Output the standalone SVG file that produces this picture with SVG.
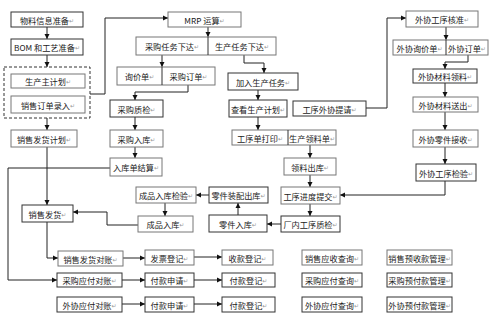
<svg xmlns="http://www.w3.org/2000/svg" width="500" height="317" viewBox="0 0 500 317">
<style>
.b{fill:#fff;stroke:#333;stroke-width:1}
.g{fill:#fff;stroke:#777;stroke-width:1}
.d{fill:none;stroke:#333;stroke-width:1;stroke-dasharray:3,2}
.t{font-family:"Noto Sans CJK SC","Noto Sans CJK JP",sans-serif;font-size:8.2px;fill:#1a1a1a;text-anchor:middle;dominant-baseline:central}
.m{fill:#999;font-size:6px;font-family:"DejaVu Sans",sans-serif}
.c{fill:none;stroke:#222;stroke-width:1}
.a{marker-end:url(#ah)}
.dv{stroke:#333;stroke-width:1}
</style>
<defs>
<marker id="ah" markerUnits="userSpaceOnUse" markerWidth="6" markerHeight="6" refX="5" refY="3" orient="auto">
<path d="M0,0.5 L5,3 L0,5.5 z" fill="#111"/>
</marker>
</defs>
<rect width="500" height="317" fill="#fff"/>

<g id="connectors">
<path class="c a" d="M47,27V39"/>
<path class="c a" d="M47,55V67"/>
<path class="c a" d="M90,94H105V18H168"/>
<path class="c a" d="M47,118V130"/>
<path class="c a" d="M208,27V37"/>
<path class="c a" d="M162,55V67"/>
<path class="c a" d="M188,85V92H135V100"/>
<path class="c a" d="M135,117V130"/>
<path class="c a" d="M135,147V158"/>
<path class="c a" d="M110,168H8V280H57"/>
<path class="c a" d="M244,55V63H264V73"/>
<path class="c a" d="M258,90V100"/>
<path class="c a" d="M258,117V130"/>
<path class="c a" d="M366,108H387V18H406"/>
<path class="c a" d="M446,27V40"/>
<path class="c a" d="M468,55V62H445V69"/>
<path class="c a" d="M445,83V97"/>
<path class="c a" d="M445,112V130"/>
<path class="c a" d="M445,147V164"/>
<path class="c a" d="M445,181V195H340"/>
<path class="c a" d="M310,145V158"/>
<path class="c a" d="M310,175V187"/>
<path class="c a" d="M310,204V216"/>
<path class="c a" d="M281,224H267"/>
<path class="c a" d="M238,215V203"/>
<path class="c a" d="M209,195H196"/>
<path class="c a" d="M165,203V216"/>
<path class="c a" d="M138,225H107V212H73"/>
<path class="c a" d="M47,147V205"/>
<path class="c a" d="M47,222V258H58"/>
<path class="c a" d="M123,258H145"/>
<path class="c a" d="M194,257H222"/>
<path class="c a" d="M122,280H145"/>
<path class="c a" d="M194,280H222"/>
<path class="c a" d="M122,304H145"/>
<path class="c a" d="M194,304H222"/>
</g>

<g id="n-wlxx"><rect class="b" x="11" y="12" width="72" height="15"/><text class="t" x="47" y="19.5">物料信息准备<tspan class="m">↵</tspan></text></g>
<g id="n-bom"><rect class="b" x="11" y="39" width="72" height="16"/><text class="t" x="47" y="47">BOM 和工艺准备<tspan class="m">↵</tspan></text></g>
<g id="n-dashed"><rect class="d" x="4" y="67" width="86" height="51"/></g>
<g id="n-sczjh"><rect class="g" x="11" y="74" width="74" height="14"/><text class="t" x="48" y="81">生产主计划<tspan class="m">↵</tspan></text></g>
<g id="n-xsdd"><rect class="g" x="11" y="96" width="74" height="17"/><text class="t" x="48" y="104.5">销售订单录入<tspan class="m">↵</tspan></text></g>
<g id="n-xsfhjh"><rect class="g" x="11" y="130" width="66" height="17"/><text class="t" x="44" y="138.5">销售发货计划<tspan class="m">↵</tspan></text></g>
<g id="n-mrp"><rect class="g" x="168" y="12" width="73" height="15"/><text class="t" x="204.5" y="19.5">MRP 运算<tspan class="m">↵</tspan></text></g>
<g id="n-rwxd"><rect class="g" x="136" y="37" width="140" height="18"/><line class="dv" x1="208" y1="37" x2="208" y2="55"/><text class="t" x="172" y="46">采购任务下达<tspan class="m">↵</tspan></text><text class="t" x="242" y="46">生产任务下达<tspan class="m">↵</tspan></text></g>
<g id="n-xjd"><rect class="g" x="117" y="67" width="98" height="18"/><line class="dv" x1="162" y1="67" x2="162" y2="85"/><text class="t" x="139.5" y="76">询价单<tspan class="m">↵</tspan></text><text class="t" x="188.5" y="76">采购订单<tspan class="m">↵</tspan></text></g>
<g id="n-jrsc"><rect class="b" x="228" y="73" width="70" height="17"/><text class="t" x="263" y="81.5">加入生产任务<tspan class="m">↵</tspan></text></g>
<g id="n-cgzj"><rect class="b" x="110" y="100" width="53" height="17"/><text class="t" x="136.5" y="108.5">采购质检<tspan class="m">↵</tspan></text></g>
<g id="n-cgrk"><rect class="g" x="110" y="130" width="53" height="17"/><text class="t" x="136.5" y="138.5">采购入库<tspan class="m">↵</tspan></text></g>
<g id="n-rkdjs"><rect class="g" x="110" y="158" width="52" height="18"/><text class="t" x="136" y="167">入库单结算<tspan class="m">↵</tspan></text></g>
<g id="n-ckscjh"><rect class="b" x="229" y="100" width="58" height="17"/><text class="t" x="258" y="108.5">查看生产计划<tspan class="m">↵</tspan></text></g>
<g id="n-gxwxtq"><rect class="b" x="293" y="101" width="73" height="15"/><text class="t" x="329.5" y="108.5">工序外协提请<tspan class="m">↵</tspan></text></g>
<g id="n-gxddy"><rect class="g" x="232" y="130" width="104" height="15"/><line class="dv" x1="288" y1="130" x2="288" y2="145"/><text class="t" x="260" y="137.5">工序单打印<tspan class="m">↵</tspan></text><text class="t" x="312" y="137.5">生产领料单<tspan class="m">↵</tspan></text></g>
<g id="n-llck"><rect class="g" x="284" y="158" width="52" height="17"/><text class="t" x="310" y="166.5">领料出库<tspan class="m">↵</tspan></text></g>
<g id="n-gxjdtj"><rect class="g" x="281" y="187" width="59" height="17"/><text class="t" x="310.5" y="195.5">工序进度提交<tspan class="m">↵</tspan></text></g>
<g id="n-cngxzj"><rect class="b" x="281" y="216" width="59" height="16"/><text class="t" x="310.5" y="224">厂内工序质检<tspan class="m">↵</tspan></text></g>
<g id="n-ljrk"><rect class="b" x="209" y="215" width="58" height="17"/><text class="t" x="238" y="223.5">零件入库<tspan class="m">↵</tspan></text></g>
<g id="n-ljzpck"><rect class="b" x="209" y="187" width="59" height="16"/><text class="t" x="238.5" y="195">零件装配出库<tspan class="m">↵</tspan></text></g>
<g id="n-cprkjy"><rect class="g" x="136" y="187" width="60" height="16"/><text class="t" x="166" y="195">成品入库检验<tspan class="m">↵</tspan></text></g>
<g id="n-cprk"><rect class="g" x="138" y="216" width="55" height="16"/><text class="t" x="165.5" y="224">成品入库<tspan class="m">↵</tspan></text></g>
<g id="n-xsfh"><rect class="b" x="22" y="205" width="51" height="17"/><text class="t" x="47.5" y="213.5">销售发货<tspan class="m">↵</tspan></text></g>
<g id="n-xsfhdz"><rect class="g" x="58" y="251" width="65" height="15"/><text class="t" x="90.5" y="258.5">销售发货对账<tspan class="m">↵</tspan></text></g>
<g id="n-fpdj"><rect class="g" x="145" y="250" width="49" height="15"/><text class="t" x="169.5" y="257.5">发票登记<tspan class="m">↵</tspan></text></g>
<g id="n-skdj"><rect class="g" x="222" y="250" width="51" height="15"/><text class="t" x="247.5" y="257.5">收款登记<tspan class="m">↵</tspan></text></g>
<g id="n-cgyfdz"><rect class="b" x="57" y="273" width="65" height="14"/><text class="t" x="89.5" y="280">采购应付对账<tspan class="m">↵</tspan></text></g>
<g id="n-fksq1"><rect class="b" x="145" y="273" width="49" height="14"/><text class="t" x="169.5" y="280">付款申请<tspan class="m">↵</tspan></text></g>
<g id="n-fkdj1"><rect class="b" x="222" y="273" width="53" height="14"/><text class="t" x="248.5" y="280">付款登记<tspan class="m">↵</tspan></text></g>
<g id="n-wxyfdz"><rect class="b" x="57" y="297" width="65" height="15"/><text class="t" x="89.5" y="304.5">外协应付对账<tspan class="m">↵</tspan></text></g>
<g id="n-fksq2"><rect class="b" x="145" y="297" width="49" height="15"/><text class="t" x="169.5" y="304.5">付款申请<tspan class="m">↵</tspan></text></g>
<g id="n-fkdj2"><rect class="b" x="222" y="297" width="53" height="15"/><text class="t" x="248.5" y="304.5">付款登记<tspan class="m">↵</tspan></text></g>
<g id="n-xsyscx"><rect class="g" x="302" y="250" width="60" height="15"/><text class="t" x="332" y="257.5">销售应收查询<tspan class="m">↵</tspan></text></g>
<g id="n-cgyfcx"><rect class="b" x="302" y="273" width="60" height="14"/><text class="t" x="332" y="280">采购应付查询<tspan class="m">↵</tspan></text></g>
<g id="n-wxyfcx"><rect class="b" x="302" y="297" width="60" height="15"/><text class="t" x="332" y="304.5">外协应付查询<tspan class="m">↵</tspan></text></g>
<g id="n-xsyskgl"><rect class="g" x="387" y="250" width="65" height="15"/><text class="t" x="419.5" y="257.5">销售预收款管理<tspan class="m">↵</tspan></text></g>
<g id="n-cgyfkgl"><rect class="b" x="387" y="273" width="65" height="14"/><text class="t" x="419.5" y="280">采购预付款管理<tspan class="m">↵</tspan></text></g>
<g id="n-wxyfkgl"><rect class="b" x="387" y="297" width="65" height="15"/><text class="t" x="419.5" y="304.5">外协预付款管理<tspan class="m">↵</tspan></text></g>
<g id="n-wxgxhz"><rect class="g" x="406" y="11" width="72" height="16"/><text class="t" x="442" y="19">外协工序核准<tspan class="m">↵</tspan></text></g>
<g id="n-wxxjd"><rect class="g" x="393" y="40" width="95" height="15"/><line class="dv" x1="446" y1="40" x2="446" y2="55"/><text class="t" x="419.5" y="47.5">外协询价单<tspan class="m">↵</tspan></text><text class="t" x="467" y="47.5">外协订单<tspan class="m">↵</tspan></text></g>
<g id="n-wxclll"><rect class="b" x="413" y="69" width="64" height="14"/><text class="t" x="445" y="76">外协材料领料<tspan class="m">↵</tspan></text></g>
<g id="n-wxclsc"><rect class="g" x="413" y="97" width="65" height="15"/><text class="t" x="445.5" y="104.5">外协材料送出<tspan class="m">↵</tspan></text></g>
<g id="n-wxljjs"><rect class="g" x="413" y="130" width="65" height="17"/><text class="t" x="445.5" y="138.5">外协零件接收<tspan class="m">↵</tspan></text></g>
<g id="n-wxgxjy"><rect class="b" x="416" y="164" width="60" height="17"/><text class="t" x="446" y="172.5">外协工序检验<tspan class="m">↵</tspan></text></g>
</svg>
